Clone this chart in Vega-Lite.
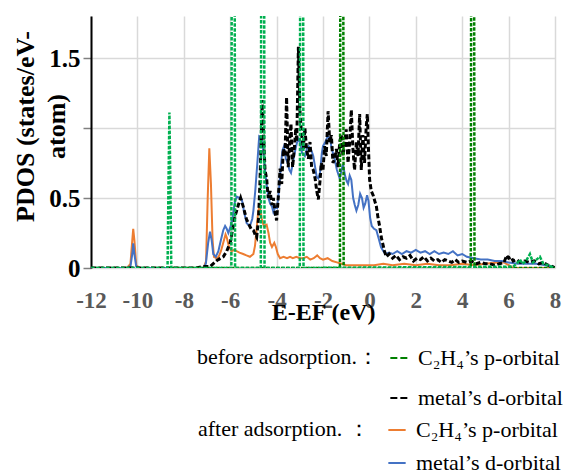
{
  "$schema": "https://vega.github.io/schema/vega-lite/v6.json",
  "width": 464,
  "height": 252,
  "autosize": "none",
  "padding": {"left": 91, "top": 16, "right": 11, "bottom": 203},
  "background": "white",
  "config": {"view": {"stroke": null}, "font": "Liberation Serif"},
  "datasets": {
    "ap": [
      {"s":"p","x":-12,"y":0},{"s":"p","x":-10.45,"y":0},{"s":"p","x":-10.3,"y":0.03},{"s":"p","x":-10.22,"y":0.2},{"s":"p","x":-10.18,"y":0.28},{"s":"p","x":-10.13,"y":0.2},{"s":"p","x":-10.05,"y":0.02},{"s":"p","x":-9.9,"y":0},
      {"s":"p","x":-7.15,"y":0},{"s":"p","x":-7.04,"y":0.05},{"s":"p","x":-6.97,"y":0.5},{"s":"p","x":-6.9,"y":0.855},{"s":"p","x":-6.83,"y":0.6},{"s":"p","x":-6.76,"y":0.2},{"s":"p","x":-6.7,"y":0.08},{"s":"p","x":-6.6,"y":0.07},{"s":"p","x":-6.5,"y":0.08},{"s":"p","x":-6.4,"y":0.12},{"s":"p","x":-6.3,"y":0.18},{"s":"p","x":-6.2,"y":0.24},{"s":"p","x":-6.15,"y":0.22},{"s":"p","x":-6.05,"y":0.15},{"s":"p","x":-5.94,"y":0.12},{"s":"p","x":-5.83,"y":0.13},{"s":"p","x":-5.72,"y":0.12},{"s":"p","x":-5.6,"y":0.11},{"s":"p","x":-5.44,"y":0.1},{"s":"p","x":-5.3,"y":0.09},{"s":"p","x":-5.15,"y":0.08},{"s":"p","x":-5.0,"y":0.1},{"s":"p","x":-4.93,"y":0.16},{"s":"p","x":-4.85,"y":0.3},{"s":"p","x":-4.79,"y":0.41},{"s":"p","x":-4.72,"y":0.44},{"s":"p","x":-4.64,"y":0.35},{"s":"p","x":-4.55,"y":0.3},{"s":"p","x":-4.43,"y":0.31},{"s":"p","x":-4.35,"y":0.25},{"s":"p","x":-4.28,"y":0.18},{"s":"p","x":-4.2,"y":0.15},{"s":"p","x":-4.1,"y":0.18},{"s":"p","x":-4.03,"y":0.15},{"s":"p","x":-3.95,"y":0.1},{"s":"p","x":-3.85,"y":0.07},{"s":"p","x":-3.7,"y":0.08},{"s":"p","x":-3.55,"y":0.07},{"s":"p","x":-3.42,"y":0.08},{"s":"p","x":-3.3,"y":0.07},{"s":"p","x":-3.15,"y":0.08},{"s":"p","x":-3.0,"y":0.07},{"s":"p","x":-2.85,"y":0.07},{"s":"p","x":-2.7,"y":0.08},{"s":"p","x":-2.55,"y":0.06},{"s":"p","x":-2.4,"y":0.07},{"s":"p","x":-2.25,"y":0.09},{"s":"p","x":-2.13,"y":0.07},{"s":"p","x":-2.0,"y":0.06},{"s":"p","x":-1.8,"y":0.07},{"s":"p","x":-1.6,"y":0.05},{"s":"p","x":-1.4,"y":0.04},{"s":"p","x":-1.2,"y":0.03},{"s":"p","x":-1.0,"y":0.02},{"s":"p","x":-0.6,"y":0.02},{"s":"p","x":-0.2,"y":0.02},{"s":"p","x":0.2,"y":0.02},{"s":"p","x":0.6,"y":0.03},{"s":"p","x":1.0,"y":0.02},{"s":"p","x":1.5,"y":0.03},{"s":"p","x":2.0,"y":0.02},{"s":"p","x":2.5,"y":0.03},{"s":"p","x":3.0,"y":0.02},{"s":"p","x":3.5,"y":0.02},{"s":"p","x":4.0,"y":0.03},{"s":"p","x":4.5,"y":0.02},{"s":"p","x":5.0,"y":0.03},{"s":"p","x":5.5,"y":0.04},{"s":"p","x":5.8,"y":0.04},{"s":"p","x":6.0,"y":0.02},{"s":"p","x":6.2,"y":0},{"s":"p","x":8,"y":0}
    ],
    "ad": [
      {"s":"d","x":-12,"y":0},{"s":"d","x":-10.45,"y":0},{"s":"d","x":-10.3,"y":0.01},{"s":"d","x":-10.22,"y":0.1},{"s":"d","x":-10.18,"y":0.176},{"s":"d","x":-10.13,"y":0.1},{"s":"d","x":-10.05,"y":0.01},{"s":"d","x":-9.9,"y":0},
      {"s":"d","x":-7.15,"y":0},{"s":"d","x":-7.05,"y":0.03},{"s":"d","x":-6.95,"y":0.18},{"s":"d","x":-6.87,"y":0.26},{"s":"d","x":-6.8,"y":0.2},{"s":"d","x":-6.73,"y":0.1},{"s":"d","x":-6.62,"y":0.08},{"s":"d","x":-6.51,"y":0.12},{"s":"d","x":-6.4,"y":0.2},{"s":"d","x":-6.3,"y":0.27},{"s":"d","x":-6.22,"y":0.3},{"s":"d","x":-6.15,"y":0.28},{"s":"d","x":-6.08,"y":0.25},{"s":"d","x":-5.98,"y":0.3},{"s":"d","x":-5.9,"y":0.36},{"s":"d","x":-5.8,"y":0.47},{"s":"d","x":-5.72,"y":0.51},{"s":"d","x":-5.6,"y":0.5},{"s":"d","x":-5.5,"y":0.49},{"s":"d","x":-5.4,"y":0.4},{"s":"d","x":-5.29,"y":0.32},{"s":"d","x":-5.15,"y":0.3},{"s":"d","x":-5.05,"y":0.35},{"s":"d","x":-5.0,"y":0.41},{"s":"d","x":-4.92,"y":0.55},{"s":"d","x":-4.83,"y":0.75},{"s":"d","x":-4.75,"y":0.94},{"s":"d","x":-4.66,"y":0.93},{"s":"d","x":-4.58,"y":0.85},{"s":"d","x":-4.5,"y":0.7},{"s":"d","x":-4.43,"y":0.6},{"s":"d","x":-4.35,"y":0.5},{"s":"d","x":-4.28,"y":0.46},{"s":"d","x":-4.2,"y":0.44},{"s":"d","x":-4.14,"y":0.4},{"s":"d","x":-4.05,"y":0.44},{"s":"d","x":-3.98,"y":0.43},{"s":"d","x":-3.9,"y":0.55},{"s":"d","x":-3.82,"y":0.72},{"s":"d","x":-3.75,"y":0.84},{"s":"d","x":-3.68,"y":0.87},{"s":"d","x":-3.6,"y":0.78},{"s":"d","x":-3.52,"y":0.75},{"s":"d","x":-3.45,"y":0.7},{"s":"d","x":-3.38,"y":0.68},{"s":"d","x":-3.3,"y":0.75},{"s":"d","x":-3.21,"y":0.83},{"s":"d","x":-3.13,"y":0.89},{"s":"d","x":-3.05,"y":0.92},{"s":"d","x":-2.99,"y":0.9},{"s":"d","x":-2.9,"y":0.82},{"s":"d","x":-2.78,"y":0.8},{"s":"d","x":-2.7,"y":0.85},{"s":"d","x":-2.62,"y":0.87},{"s":"d","x":-2.5,"y":0.84},{"s":"d","x":-2.42,"y":0.8},{"s":"d","x":-2.34,"y":0.72},{"s":"d","x":-2.27,"y":0.65},{"s":"d","x":-2.2,"y":0.64},{"s":"d","x":-2.13,"y":0.68},{"s":"d","x":-2.05,"y":0.82},{"s":"d","x":-2.0,"y":0.87},{"s":"d","x":-1.9,"y":0.9},{"s":"d","x":-1.8,"y":0.94},{"s":"d","x":-1.71,"y":0.93},{"s":"d","x":-1.62,"y":0.85},{"s":"d","x":-1.5,"y":0.78},{"s":"d","x":-1.4,"y":0.7},{"s":"d","x":-1.28,"y":0.64},{"s":"d","x":-1.2,"y":0.7},{"s":"d","x":-1.14,"y":0.74},{"s":"d","x":-1.05,"y":0.66},{"s":"d","x":-0.98,"y":0.62},{"s":"d","x":-0.92,"y":0.6},{"s":"d","x":-0.85,"y":0.66},{"s":"d","x":-0.78,"y":0.63},{"s":"d","x":-0.7,"y":0.5},{"s":"d","x":-0.63,"y":0.45},{"s":"d","x":-0.56,"y":0.41},{"s":"d","x":-0.48,"y":0.45},{"s":"d","x":-0.4,"y":0.53},{"s":"d","x":-0.32,"y":0.5},{"s":"d","x":-0.25,"y":0.43},{"s":"d","x":-0.18,"y":0.46},{"s":"d","x":-0.1,"y":0.52},{"s":"d","x":-0.04,"y":0.48},{"s":"d","x":0.03,"y":0.36},{"s":"d","x":0.1,"y":0.3},{"s":"d","x":0.2,"y":0.28},{"s":"d","x":0.3,"y":0.27},{"s":"d","x":0.4,"y":0.21},{"s":"d","x":0.5,"y":0.15},{"s":"d","x":0.6,"y":0.12},{"s":"d","x":0.7,"y":0.1},{"s":"d","x":0.85,"y":0.11},{"s":"d","x":1.0,"y":0.1},{"s":"d","x":1.2,"y":0.12},{"s":"d","x":1.4,"y":0.1},{"s":"d","x":1.6,"y":0.12},{"s":"d","x":1.8,"y":0.11},{"s":"d","x":2.0,"y":0.13},{"s":"d","x":2.2,"y":0.11},{"s":"d","x":2.4,"y":0.12},{"s":"d","x":2.6,"y":0.1},{"s":"d","x":2.8,"y":0.12},{"s":"d","x":3.0,"y":0.1},{"s":"d","x":3.2,"y":0.11},{"s":"d","x":3.4,"y":0.1},{"s":"d","x":3.6,"y":0.12},{"s":"d","x":3.8,"y":0.09},{"s":"d","x":4.0,"y":0.1},{"s":"d","x":4.2,"y":0.08},{"s":"d","x":4.5,"y":0.07},{"s":"d","x":4.8,"y":0.06},{"s":"d","x":5.1,"y":0.06},{"s":"d","x":5.4,"y":0.05},{"s":"d","x":5.7,"y":0.05},{"s":"d","x":6.0,"y":0.04},{"s":"d","x":6.4,"y":0.03},{"s":"d","x":6.8,"y":0.03},{"s":"d","x":7.2,"y":0.03},{"s":"d","x":7.6,"y":0.02},{"s":"d","x":7.9,"y":0.01},{"s":"d","x":8,"y":0}
    ],
    "bd": [
      {"s":"d","x":-12,"y":0},{"s":"d","x":-7.5,"y":0},{"s":"d","x":-7.2,"y":0.01},{"s":"d","x":-6.87,"y":0.01},{"s":"d","x":-6.6,"y":0.05},{"s":"d","x":-6.51,"y":0.06},{"s":"d","x":-6.3,"y":0.08},{"s":"d","x":-6.15,"y":0.12},{"s":"d","x":-6.0,"y":0.18},{"s":"d","x":-5.87,"y":0.3},{"s":"d","x":-5.79,"y":0.37},{"s":"d","x":-5.65,"y":0.45},{"s":"d","x":-5.55,"y":0.5},{"s":"d","x":-5.44,"y":0.44},{"s":"d","x":-5.3,"y":0.35},{"s":"d","x":-5.22,"y":0.32},{"s":"d","x":-5.1,"y":0.28},{"s":"d","x":-5.0,"y":0.27},{"s":"d","x":-4.93,"y":0.24},{"s":"d","x":-4.86,"y":0.22},{"s":"d","x":-4.78,"y":0.35},{"s":"d","x":-4.72,"y":0.6},{"s":"d","x":-4.66,"y":0.95},{"s":"d","x":-4.62,"y":1.2},{"s":"d","x":-4.56,"y":0.95},{"s":"d","x":-4.5,"y":0.7},{"s":"d","x":-4.43,"y":0.64},{"s":"d","x":-4.36,"y":0.5},{"s":"d","x":-4.28,"y":0.55},{"s":"d","x":-4.2,"y":0.45},{"s":"d","x":-4.14,"y":0.5},{"s":"d","x":-4.07,"y":0.4},{"s":"d","x":-4.0,"y":0.34},{"s":"d","x":-3.93,"y":0.5},{"s":"d","x":-3.85,"y":0.71},{"s":"d","x":-3.78,"y":0.6},{"s":"d","x":-3.71,"y":0.85},{"s":"d","x":-3.64,"y":0.8},{"s":"d","x":-3.57,"y":1.22},{"s":"d","x":-3.5,"y":0.72},{"s":"d","x":-3.42,"y":0.95},{"s":"d","x":-3.38,"y":1.03},{"s":"d","x":-3.31,"y":0.72},{"s":"d","x":-3.24,"y":0.85},{"s":"d","x":-3.17,"y":1.0},{"s":"d","x":-3.13,"y":0.9},{"s":"d","x":-3.06,"y":1.58},{"s":"d","x":-2.99,"y":1.1},{"s":"d","x":-2.92,"y":0.95},{"s":"d","x":-2.85,"y":0.85},{"s":"d","x":-2.78,"y":1.0},{"s":"d","x":-2.71,"y":0.85},{"s":"d","x":-2.63,"y":0.78},{"s":"d","x":-2.56,"y":0.9},{"s":"d","x":-2.49,"y":0.72},{"s":"d","x":-2.42,"y":0.7},{"s":"d","x":-2.34,"y":0.64},{"s":"d","x":-2.27,"y":0.55},{"s":"d","x":-2.2,"y":0.49},{"s":"d","x":-2.13,"y":0.62},{"s":"d","x":-2.07,"y":0.75},{"s":"d","x":-2.0,"y":0.7},{"s":"d","x":-1.93,"y":0.87},{"s":"d","x":-1.86,"y":0.8},{"s":"d","x":-1.78,"y":1.12},{"s":"d","x":-1.71,"y":0.9},{"s":"d","x":-1.64,"y":0.95},{"s":"d","x":-1.57,"y":0.75},{"s":"d","x":-1.5,"y":0.78},{"s":"d","x":-1.42,"y":0.85},{"s":"d","x":-1.35,"y":0.72},{"s":"d","x":-1.28,"y":0.9},{"s":"d","x":-1.21,"y":0.95},{"s":"d","x":-1.14,"y":0.8},{"s":"d","x":-1.07,"y":0.9},{"s":"d","x":-1.0,"y":0.99},{"s":"d","x":-0.92,"y":0.75},{"s":"d","x":-0.85,"y":0.9},{"s":"d","x":-0.78,"y":1.13},{"s":"d","x":-0.71,"y":0.85},{"s":"d","x":-0.64,"y":0.7},{"s":"d","x":-0.56,"y":0.9},{"s":"d","x":-0.49,"y":0.8},{"s":"d","x":-0.42,"y":1.1},{"s":"d","x":-0.35,"y":0.7},{"s":"d","x":-0.28,"y":0.95},{"s":"d","x":-0.21,"y":0.75},{"s":"d","x":-0.14,"y":1.0},{"s":"d","x":-0.09,"y":1.1},{"s":"d","x":-0.04,"y":0.85},{"s":"d","x":0.01,"y":0.63},{"s":"d","x":0.08,"y":0.55},{"s":"d","x":0.16,"y":0.52},{"s":"d","x":0.23,"y":0.48},{"s":"d","x":0.3,"y":0.44},{"s":"d","x":0.37,"y":0.36},{"s":"d","x":0.44,"y":0.3},{"s":"d","x":0.51,"y":0.22},{"s":"d","x":0.58,"y":0.17},{"s":"d","x":0.65,"y":0.12},{"s":"d","x":0.73,"y":0.08},{"s":"d","x":0.85,"y":0.1},{"s":"d","x":1.0,"y":0.07},{"s":"d","x":1.15,"y":0.09},{"s":"d","x":1.3,"y":0.06},{"s":"d","x":1.45,"y":0.08},{"s":"d","x":1.6,"y":0.07},{"s":"d","x":1.75,"y":0.09},{"s":"d","x":1.9,"y":0.05},{"s":"d","x":2.05,"y":0.07},{"s":"d","x":2.2,"y":0.06},{"s":"d","x":2.35,"y":0.08},{"s":"d","x":2.5,"y":0.05},{"s":"d","x":2.65,"y":0.07},{"s":"d","x":2.8,"y":0.05},{"s":"d","x":2.95,"y":0.06},{"s":"d","x":3.1,"y":0.04},{"s":"d","x":3.25,"y":0.06},{"s":"d","x":3.4,"y":0.05},{"s":"d","x":3.55,"y":0.04},{"s":"d","x":3.7,"y":0.06},{"s":"d","x":3.85,"y":0.04},{"s":"d","x":4.0,"y":0.05},{"s":"d","x":4.2,"y":0.04},{"s":"d","x":4.4,"y":0.05},{"s":"d","x":4.6,"y":0.03},{"s":"d","x":4.8,"y":0.04},{"s":"d","x":5.0,"y":0.03},{"s":"d","x":5.2,"y":0.03},{"s":"d","x":5.4,"y":0.02},{"s":"d","x":5.6,"y":0.03},{"s":"d","x":5.8,"y":0.04},{"s":"d","x":5.92,"y":0.09},{"s":"d","x":6.0,"y":0.07},{"s":"d","x":6.1,"y":0.08},{"s":"d","x":6.2,"y":0.05},{"s":"d","x":6.35,"y":0.06},{"s":"d","x":6.5,"y":0.04},{"s":"d","x":6.7,"y":0.05},{"s":"d","x":6.9,"y":0.04},{"s":"d","x":7.1,"y":0.05},{"s":"d","x":7.3,"y":0.03},{"s":"d","x":7.5,"y":0.04},{"s":"d","x":7.7,"y":0.02},{"s":"d","x":7.9,"y":0.01},{"s":"d","x":8,"y":0}
    ],
    "bp": [
      {"s":"p","x":-12,"y":0},{"s":"p","x":-1.27,"y":0},{"s":"p","x":-1.24,"y":4},{"s":"p","x":-1.14,"y":4},{"s":"p","x":-1.11,"y":0},{"s":"p","x":4.37,"y":0},{"s":"p","x":4.4,"y":4},{"s":"p","x":4.5,"y":4},{"s":"p","x":4.53,"y":0},{"s":"p","x":8,"y":0}
    ],
    "lg": [
      {"x":-12,"y":0},{"x":-8.7,"y":0},{"x":-8.66,"y":0.6},{"x":-8.62,"y":1.11},{"x":-8.58,"y":0.6},{"x":-8.54,"y":0},
      {"x":-5.95,"y":0},{"x":-5.92,"y":4},{"x":-5.82,"y":4},{"x":-5.79,"y":0},
      {"x":-4.68,"y":0},{"x":-4.65,"y":4},{"x":-4.55,"y":4},{"x":-4.52,"y":0},
      {"x":-3.0,"y":0},{"x":-2.97,"y":4},{"x":-2.87,"y":4},{"x":-2.84,"y":0},
      {"x":6.2,"y":0.01},{"x":6.4,"y":0.04},{"x":6.49,"y":0.06},{"x":6.6,"y":0.03},{"x":6.75,"y":0.05},{"x":6.92,"y":0.1},{"x":7.05,"y":0.04},{"x":7.2,"y":0.06},{"x":7.35,"y":0.08},{"x":7.5,"y":0.03},{"x":7.7,"y":0.02},{"x":8,"y":0}
    ]
  },
  "encoding": {
    "x": {
      "field": "x", "type": "quantitative",
      "scale": {"domain": [-12, 8], "nice": false, "zero": false},
      "axis": {
        "values": [-12, -10, -8, -6, -4, -2, 0, 2, 4, 6, 8],
        "title": "E-EF (eV)",
        "domain": false, "ticks": false,
        "grid": true, "gridColor": "#d9d9d9", "gridWidth": 1.5,
        "labelExpr": "'' + datum.value",
        "labelFont": "Liberation Serif", "labelFontSize": 23, "labelFontWeight": "bold", "labelColor": "#595959",
        "labelPadding": 21, "labelFlush": false, "labelOverlap": false,
        "titleFont": "Liberation Serif", "titleFontSize": 24, "titleFontWeight": "bold", "titleColor": "#000000",
        "titleBaseline": "middle", "titleY": 44
      }
    },
    "y": {
      "field": "y", "type": "quantitative",
      "scale": {"domain": [0, 1.8], "nice": false},
      "axis": {
        "values": [0, 0.5, 1, 1.5],
        "title": ["PDOS (states/eV-", "atom)"],
        "domain": true, "domainColor": "#000000", "domainWidth": 2,
        "ticks": true, "tickColor": "#808080", "tickSize": 8, "tickWidth": 1.5,
        "grid": true, "gridColor": "#d9d9d9", "gridWidth": 1.5,
        "labelExpr": "datum.value == 1 ? '' : '' + datum.value",
        "labelFont": "Liberation Serif", "labelFontSize": 25, "labelFontWeight": "bold", "labelColor": "#000000",
        "labelPadding": 3,
        "titleFont": "Liberation Serif", "titleFontSize": 26, "titleFontWeight": "bold", "titleColor": "#000000",
        "titleAngle": -90, "titleAlign": "center", "titleBaseline": "middle", "titleLineHeight": 31,
        "titleX": -66, "titleY": 110
      }
    }
  },
  "layer": [
    {
      "layer": [
        {"data": {"name": "ap"}, "mark": {"type": "line", "clip": true, "strokeWidth": 2}},
        {"data": {"name": "ad"}, "mark": {"type": "line", "clip": true, "strokeWidth": 2}}
      ],
      "encoding": {
        "color": {
          "field": "s", "type": "nominal",
          "scale": {"domain": ["p", "d"], "range": ["#ed7d31", "#4472c4"]},
          "legend": {
            "title": "after adsorption. ：",
            "orient": "none", "legendX": 107, "legendY": 403, "direction": "vertical",
            "titleOrient": "left", "titleAnchor": "start", "titleBaseline": "top", "titlePadding": 16, "titleLimit": 400, "labelLimit": 400,
            "titleFont": "Liberation Serif", "titleFontSize": 22, "titleFontWeight": "normal", "titleColor": "#000000",
            "labelFont": "Liberation Serif", "labelFontSize": 22, "labelColor": "#000000", "labelOffset": 8,
            "symbolType": "stroke", "symbolSize": 300, "symbolStrokeWidth": 2,
            "rowPadding": 11, "padding": 0,
            "labelExpr": "datum.value == 'p' ? 'C₂H₄’s p‐orbital' : 'metal’s d‐orbital'",
            "encode": {"symbols": {"update": {"stroke": {"signal": "datum.value == 'd' ? '#1fa0f0' : '#ed7d31'"}}}}
          }
        }
      }
    },
    {
      "layer": [
        {"data": {"name": "bd"}, "mark": {"type": "line", "clip": true, "strokeWidth": 3, "strokeDash": [5, 2.5]}},
        {"data": {"name": "bp"}, "mark": {"type": "line", "clip": true, "strokeWidth": 2.5, "strokeDash": [3.5, 1.5]}}
      ],
      "encoding": {
        "color": {
          "field": "s", "type": "nominal",
          "scale": {"domain": ["p", "d"], "range": ["#008000", "#000000"]},
          "legend": {
            "title": "before adsorption.：",
            "orient": "none", "legendX": 106, "legendY": 331, "direction": "vertical",
            "titleOrient": "left", "titleAnchor": "start", "titleBaseline": "top", "titlePadding": 8, "titleLimit": 400, "labelLimit": 400,
            "titleFont": "Liberation Serif", "titleFontSize": 22, "titleFontWeight": "normal", "titleColor": "#000000",
            "labelFont": "Liberation Serif", "labelFontSize": 22, "labelColor": "#000000", "labelOffset": 8,
            "symbolType": "stroke", "symbolSize": 300, "symbolStrokeWidth": 2, "symbolDash": [7, 3],
            "rowPadding": 18, "padding": 0,
            "labelExpr": "datum.value == 'p' ? 'C₂H₄’s p‐orbital' : 'metal’s d‐orbital'",
            "encode": {"symbols": {"update": {"stroke": {"signal": "datum.value == 'd' ? '#000000' : '#5a9e32'"}}}}
          }
        }
      }
    },
    {
      "data": {"name": "lg"},
      "mark": {"type": "line", "clip": true, "strokeWidth": 2.5, "strokeDash": [3.5, 1.5], "color": "#00b050"}
    }
  ],
  "resolve": {"scale": {"color": "independent"}}
}
